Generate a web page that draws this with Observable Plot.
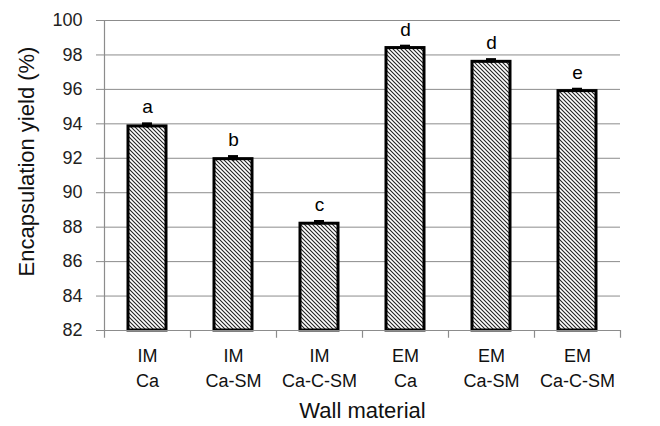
<!DOCTYPE html>
<html>
<head>
<meta charset="utf-8">
<script src="https://cdn.jsdelivr.net/npm/d3@7"></script>
<script src="https://cdn.jsdelivr.net/npm/@observablehq/plot@0.6"></script>
<style>
  body { margin: 0; background: #fff; }
  #chart svg { display: block; }
</style>
</head>
<body>
<div id="chart"></div>
<script>
const categories = ["IM\nCa", "IM\nCa-SM", "IM\nCa-C-SM", "EM\nCa", "EM\nCa-SM", "EM\nCa-C-SM"];
const values = [93.85, 91.95, 88.2, 98.4, 97.6, 95.9];
const errors = [0.12, 0.12, 0.1, 0.08, 0.1, 0.08];
const letters = ["a", "b", "c", "d", "d", "e"];
const yTicks = [82, 84, 86, 88, 90, 92, 94, 96, 98, 100];
const yLabel = "Encapsulation yield (%)";
const xLabel = "Wall material";

const data = categories.map((c, i) => ({cat: c, v: values[i], e: errors[i], l: letters[i]}));

const W = 660, H = 426, ML = 104, MR = 40, MT = 20, MB = 96;
const bw = (W - ML - MR) / categories.length;
const grey = "#8c8c8c";

const chart = Plot.plot({
  width: W,
  height: H,
  marginLeft: ML,
  marginRight: MR,
  marginTop: MT,
  marginBottom: MB,
  style: {fontFamily: "'Liberation Sans', Arial, sans-serif", background: "#fff"},
  x: {domain: categories, paddingInner: 0.56, paddingOuter: 0.28, axis: null},
  y: {domain: [82, 100], axis: null},
  marks: [
    Plot.gridY(yTicks, {stroke: grey, strokeOpacity: 1, strokeWidth: 1}),
    // y axis line (at left edge of first band)
    Plot.ruleX([categories[0]], {x: d => d, dx: -bw / 2, y1: 82, y2: 100, stroke: grey, strokeWidth: 1.2}),
    // x axis tick marks at band boundaries
    Plot.ruleX(categories, {x: d => d, dx: -bw / 2, y1: 82, y2: 81.55, stroke: grey, strokeWidth: 1.2}),
    Plot.ruleX([categories[categories.length - 1]], {x: d => d, dx: bw / 2, y1: 82, y2: 81.55, stroke: grey, strokeWidth: 1.2}),
    Plot.barY(data, {x: "cat", y1: 82, y2: "v", fill: "url(#hatch)", stroke: "#000", strokeWidth: 3}),
    Plot.ruleX(data, {x: "cat", y1: d => d.v - d.e, y2: d => d.v + d.e, stroke: "#000", strokeWidth: 2}),
    Plot.tickY(data, {x: "cat", y: d => d.v + d.e, stroke: "#000", strokeWidth: 4, inset: 14}),
    Plot.text(data, {x: "cat", y: d => d.v + d.e, text: "l", dy: -17, fontSize: 19, fill: "#000"}),
    Plot.axisY(yTicks, {tickSize: 8, tickPadding: 14, fontSize: 18, stroke: grey, color: "#222", label: null}),
    Plot.ruleY([82], {stroke: grey, strokeWidth: 1.2}),
    Plot.axisX({tickSize: 0, tickPadding: 14, fontSize: 18, color: "#111", lineHeight: 1.38, label: null}),
    Plot.text([yLabel], {frameAnchor: "left", textAnchor: "middle", text: d => d, rotate: -90, dx: -78, dy: -14, fontSize: 22, fill: "#111"}),
    Plot.text([xLabel], {frameAnchor: "bottom", textAnchor: "middle", lineAnchor: "middle", text: d => d, dy: 80, fontSize: 22, fill: "#111"})
  ]
});

const svg = d3.select(chart);
const defs = svg.insert("defs", ":first-child");
const pat = defs.append("pattern").attr("id", "hatch").attr("patternUnits", "userSpaceOnUse")
  .attr("width", 4).attr("height", 4);
pat.append("rect").attr("width", 4).attr("height", 4).attr("fill", "#fff");
pat.append("path").attr("d", "M-1,-1 L5,5 M-1,3 L1,5 M3,-1 L5,1").attr("stroke", "#222").attr("stroke-width", 1.1);

document.getElementById("chart").appendChild(chart);
</script>
</body>
</html>
